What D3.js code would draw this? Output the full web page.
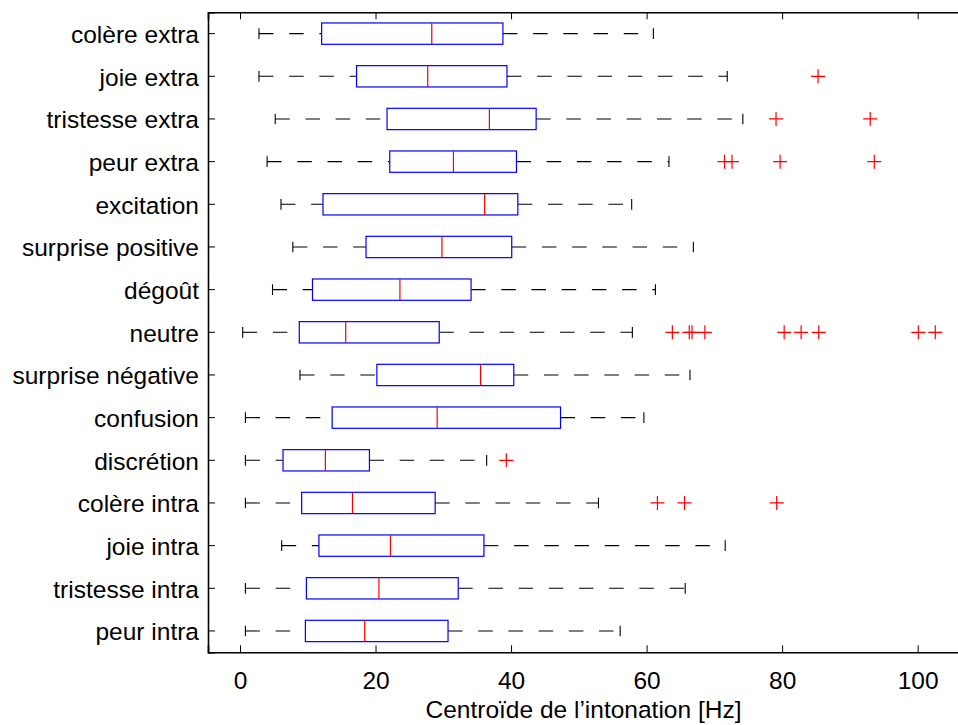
<!DOCTYPE html>
<html>
<head>
<meta charset="utf-8">
<script src="https://cdn.jsdelivr.net/npm/d3@7"></script>
<style>
  html, body { margin: 0; padding: 0; background: #fff; overflow: hidden; }
  svg { display: block; }
  text { font-family: "Liberation Sans", Arial, Helvetica, sans-serif; fill: #000; }
</style>
</head>
<body>
<svg id="chart" width="958" height="725"></svg>
<script>
// ---- data ----
const categories = ["colère extra","joie extra","tristesse extra","peur extra","excitation",
  "surprise positive","dégoût","neutre","surprise négative","confusion","discrétion",
  "colère intra","joie intra","tristesse intra","peur intra"];
const whiskerLow  = [2.8, 2.8, 5.2, 4.0, 6.05, 7.8, 4.8, 0.4, 8.85, 0.8, 0.8, 0.8, 6.15, 0.8, 0.8];
const q1          = [12.05, 17.2, 21.7, 22.1, 12.25, 18.6, 10.7, 8.75, 20.2, 13.6, 6.35, 9.1, 11.65, 9.8, 9.65];
const medians     = [28.3, 27.7, 36.8, 31.5, 36.1, 29.8, 23.6, 15.6, 35.5, 29.1, 12.6, 16.6, 22.2, 20.5, 18.4];
const q3          = [38.8, 39.4, 43.7, 40.8, 41.0, 40.1, 34.1, 29.4, 40.4, 47.3, 19.1, 28.8, 36.0, 32.2, 30.7];
const whiskerHigh = [61.0, 71.9, 74.2, 63.3, 57.8, 66.9, 61.3, 57.9, 66.4, 59.6, 36.4, 52.9, 71.6, 65.7, 56.1];
const outliers = [
  [],
  [85.3],
  [79.1, 93.0],
  [71.5, 72.6, 79.7, 93.6],
  [],
  [],
  [],
  [63.8, 66.3, 66.7, 68.6, 80.3, 82.8, 85.4, 100.1, 102.6],
  [],
  [],
  [39.3],
  [61.6, 65.6, 79.2],
  [],
  [],
  []
];
const xTicks = [0, 20, 40, 60, 80, 100];
const xLabel = "Centroïde de l\u2019intonation [Hz]";

(function () {
// ---- layout ----
const mLeft = 208, mRight = 959, mTop = 12.3, mBottom = 652.3;
const svg = d3.select("#chart");

const x = d3.scaleLinear().domain([-4.72, 106.1]).range([mLeft, mRight]);
const y = d3.scaleBand().domain(categories).range([mTop, mBottom]).padding(0);
const bw = y.bandwidth();
const cy = c => y(c) + bw / 2;
const boxH = bw * 0.5;
const capH = bw * 0.25;

const fontSize = 24.5;

// axes
const gBottom = svg.append("g").attr("transform", `translate(0,${mBottom})`)
  .call(d3.axisBottom(x).tickValues(xTicks).tickSize(-7).tickPadding(19).tickFormat(d3.format("d")));
const gTop = svg.append("g").attr("transform", `translate(0,${mTop})`)
  .call(d3.axisTop(x).tickValues(xTicks).tickSize(-7).tickFormat(""));
const gLeft = svg.append("g").attr("transform", `translate(${mLeft},0)`)
  .call(d3.axisLeft(y).tickSize(-7).tickPadding(9));

[gBottom, gTop, gLeft].forEach(g => {
  g.select(".domain").attr("stroke", "#000").attr("stroke-width", 1.6);
  g.selectAll(".tick line").attr("stroke", "#000").attr("stroke-width", 1);
  g.selectAll(".tick text").attr("font-size", fontSize)
    .attr("font-family", '"Liberation Sans", Arial, sans-serif').attr("fill", "#000");
});
gLeft.selectAll(".tick text").attr("dy", "0.38em");

svg.append("text")
  .attr("x", (mLeft + mRight) / 2).attr("y", 718)
  .attr("text-anchor", "middle").attr("font-size", fontSize)
  .text(xLabel);

// boxes
const g = svg.append("g");
const rows = categories.map((c, i) => ({c, lo: whiskerLow[i], q1: q1[i], med: medians[i], q3: q3[i], hi: whiskerHigh[i], out: outliers[i]}));

const row = g.selectAll("g.row").data(rows).join("g").attr("class", "row");

// whiskers (dashed)
row.append("line")
  .attr("x1", d => x(d.lo)).attr("x2", d => x(d.q1))
  .attr("y1", d => cy(d.c)).attr("y2", d => cy(d.c))
  .attr("stroke", "#000").attr("stroke-width", 1.1).attr("stroke-dasharray", "14.5,15.7");
row.append("line")
  .attr("x1", d => x(d.q3)).attr("x2", d => x(d.hi))
  .attr("y1", d => cy(d.c)).attr("y2", d => cy(d.c))
  .attr("stroke", "#000").attr("stroke-width", 1.1).attr("stroke-dasharray", "14.5,15.7");
// caps
row.append("line")
  .attr("x1", d => x(d.lo)).attr("x2", d => x(d.lo))
  .attr("y1", d => cy(d.c) - capH / 2).attr("y2", d => cy(d.c) + capH / 2)
  .attr("stroke", "#000").attr("stroke-width", 1.1);
row.append("line")
  .attr("x1", d => x(d.hi)).attr("x2", d => x(d.hi))
  .attr("y1", d => cy(d.c) - capH / 2).attr("y2", d => cy(d.c) + capH / 2)
  .attr("stroke", "#000").attr("stroke-width", 1.1);
// box
row.append("rect")
  .attr("x", d => x(d.q1)).attr("width", d => x(d.q3) - x(d.q1))
  .attr("y", d => cy(d.c) - boxH / 2).attr("height", boxH)
  .attr("fill", "#fff").attr("stroke", "#0000ff").attr("stroke-width", 1.2);
// median
row.append("line")
  .attr("x1", d => x(d.med)).attr("x2", d => x(d.med))
  .attr("y1", d => cy(d.c) - boxH / 2).attr("y2", d => cy(d.c) + boxH / 2)
  .attr("stroke", "#ff0000").attr("stroke-width", 1.2);
// outliers
const plus = 7;
row.each(function (d) {
  d3.select(this).selectAll("path.out").data(d.out).join("path").attr("class", "out")
    .attr("d", v => `M${x(v) - plus},${cy(d.c)}H${x(v) + plus}M${x(v)},${cy(d.c) - plus}V${cy(d.c) + plus}`)
    .attr("stroke", "#ff0000").attr("stroke-width", 1.2).attr("fill", "none");
});
})();
</script>
</body>
</html>
